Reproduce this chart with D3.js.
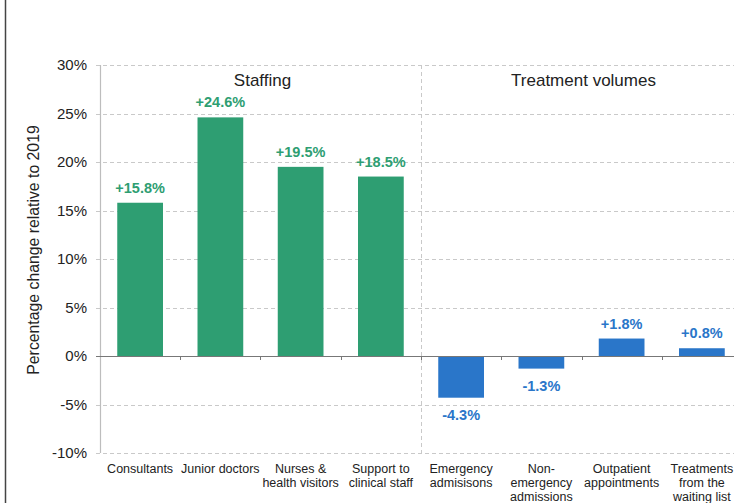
<!DOCTYPE html>
<html><head><meta charset="utf-8">
<script src="https://cdn.jsdelivr.net/npm/d3@7"></script>
<style>
html,body{margin:0;padding:0;background:#fff;}
svg{display:block;font-family:"Liberation Sans",Arial,sans-serif;}
</style></head>
<body>
<svg id="chart" width="734" height="503"></svg>
<script>
const categories = [
  ["Consultants"], ["Junior doctors"], ["Nurses &", "health visitors"], ["Support to", "clinical staff"],
  ["Emergency", "admisisons"], ["Non-", "emergency", "admissions"], ["Outpatient", "appointments"], ["Treatments", "from the", "waiting list"]
];
const values = [15.8, 24.6, 19.5, 18.5, -4.3, -1.3, 1.8, 0.8];
const groups = ["Staffing","Staffing","Staffing","Staffing","Treatment volumes","Treatment volumes","Treatment volumes","Treatment volumes"];
const groupTitles = ["Staffing", "Treatment volumes"];
const yTicks = [-10, -5, 0, 5, 10, 15, 20, 25, 30];
const yLabel = "Percentage change relative to 2019";

const colorFor = {"Staffing": "#2e9e72", "Treatment volumes": "#2a76c9"};

const svg = d3.select("#chart");
const keys = categories.map(c => c.join(" "));
const x = d3.scaleBand().domain(keys).range([100, 742]).paddingInner(0.43).paddingOuter(0.215);
const y = d3.scaleLinear().domain([-10, 30]).range([453, 65]);

// left border
svg.append("line").attr("x1",5.5).attr("x2",5.5).attr("y1",0).attr("y2",503).attr("stroke","#444").attr("stroke-width",1.5);

// gridlines
svg.append("g").selectAll("line").data(yTicks.filter(t => t !== 0)).join("line")
  .attr("x1", 96).attr("x2", 734)
  .attr("y1", d => Math.round(y(d)) + 0.5).attr("y2", d => Math.round(y(d)) + 0.5)
  .attr("stroke", "#c9c9c9").attr("stroke-dasharray", "4,3");

// separator
const sepX = Math.round(x(keys[4]) - x.step() * x.paddingInner() / 2) + 0.5;
svg.append("line").attr("x1", sepX).attr("x2", sepX).attr("y1", y(30)).attr("y2", y(-10))
  .attr("stroke", "#c9c9c9").attr("stroke-dasharray", "4,3");

// y axis line
svg.append("line").attr("x1", 100.5).attr("x2", 100.5).attr("y1", y(30)).attr("y2", y(-10))
  .attr("stroke", "#bdbdbd").attr("stroke-width", 1.2);

// y tick labels
svg.append("g").selectAll("text").data(yTicks).join("text")
  .attr("x", 87).attr("y", d => y(d)).attr("dy", "0.35em")
  .attr("text-anchor", "end").attr("font-size", 15).attr("fill", "#222")
  .text(d => d + "%");

// y label
svg.append("text").attr("transform", "translate(39,250) rotate(-90)")
  .attr("text-anchor", "middle").attr("font-size", 15.8).attr("fill", "#222").text(yLabel);

// bars
svg.append("g").selectAll("rect").data(values).join("rect")
  .attr("x", (d, i) => x(keys[i])).attr("width", x.bandwidth())
  .attr("y", d => y(Math.max(0, d))).attr("height", d => Math.abs(y(d) - y(0)))
  .attr("fill", (d, i) => colorFor[groups[i]]);

// zero line
svg.append("line").attr("x1", 96).attr("x2", 734).attr("y1", Math.round(y(0)) + 0.5).attr("y2", Math.round(y(0)) + 0.5)
  .attr("stroke", "#777").attr("stroke-width", 1.2);

// category ticks on zero line
const bounds = keys.map(k => x(k) - x.step() * x.paddingInner() / 2).slice(1);
svg.append("g").selectAll("line").data(bounds).join("line")
  .attr("x1", d => Math.round(d) + 0.5).attr("x2", d => Math.round(d) + 0.5)
  .attr("y1", y(0)).attr("y2", y(0) + 4).attr("stroke", "#777");

// value labels
svg.append("g").selectAll("text").data(values).join("text")
  .attr("x", (d, i) => x(keys[i]) + x.bandwidth() / 2)
  .attr("y", d => d >= 0 ? y(d) - 10 : y(d) + 22)
  .attr("text-anchor", "middle").attr("font-size", 14.5).attr("font-weight", "bold")
  .attr("fill", (d, i) => colorFor[groups[i]])
  .text(d => (d > 0 ? "+" : "") + d.toFixed(1) + "%");

// category labels
const cl = svg.append("g").selectAll("text").data(categories).join("text")
  .attr("x", (d, i) => x(keys[i]) + x.bandwidth() / 2)
  .attr("y", 473).attr("text-anchor", "middle").attr("font-size", 12.5).attr("fill", "#222");
cl.selectAll("tspan").data(d => d).join("tspan")
  .attr("x", function(){ return this.parentNode.getAttribute("x"); })
  .attr("dy", (d, j) => j === 0 ? 0 : 14).text(d => d);

// group titles
groupTitles.forEach(g => {
  const idx = groups.map((v, i) => v === g ? i : -1).filter(i => i >= 0);
  const x0 = x(keys[idx[0]]) - x.step() * x.paddingInner() / 2;
  const x1 = x(keys[idx[idx.length - 1]]) + x.bandwidth() + x.step() * x.paddingInner() / 2;
  svg.append("text").attr("x", (x0 + x1) / 2 + 2).attr("y", 86)
    .attr("text-anchor", "middle").attr("font-size", 17).attr("fill", "#222").text(g);
});
</script>
</body></html>
